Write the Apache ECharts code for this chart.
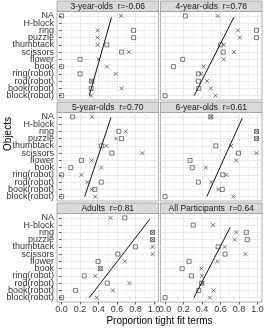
<!DOCTYPE html>
<html><head><meta charset="utf-8">
<script src="https://cdn.jsdelivr.net/npm/echarts@6/dist/echarts.min.js"></script>
<style>html,body{margin:0;padding:0;background:#fff}#c{width:271px;height:329px}</style>
</head><body><div id="c"></div>
<script>
// ---- data ----
const categories = ['NA','H-block','ring','puzzle','thumbtack','scissors','flower','book','ring(robot)','rod(robot)','book(robot)','block(robot)'];
const panelTitles = ['3-year-olds  r=-0.06','4-year-olds  r=0.78','5-year-olds  r=0.70','6-year-olds  r=0.61','Adults  r=0.81','All Participants  r=0.64'];
const xTickLabels = [0, 0.2, 0.4, 0.6, 0.8, 1.0];
const xMinorLines = [0.1, 0.3, 0.5, 0.7, 0.9];

const squares3yo = [0.0, null, 0.78, 0.78, 0.49, 0.65, 0.20, 0.0, 0.20, 0.325, 0.32, 0.0];
const crosses3yo = [0.645, null, 0.39, 0.39, 0.39, 0.73, 0.40, 0.49, 0.585, 0.325, 0.65, 0.32];
const squares4yo = [0.22, null, 0.99, 0.99, 0.60, 0.63, 0.19, 0.09, 0.36, 0.36, 0.365, 0.0];
const crosses4yo = [0.57, null, 0.79, 0.81, 0.635, 0.745, 0.635, 0.415, 0.39, 0.455, 0.495, 0.545];
const squares5yo = [0.12, null, 0.62, 0.65, 0.43, 0.545, 0.215, 0.10, 0.0, 0.43, 0.36, 0.0];
const crosses5yo = [0.33, null, 0.695, 0.59, 0.485, 0.875, 0.325, 0.43, 0.215, 0.28, 0.325, 0.365];
const squares6yo = [0.495, null, 0.99, 0.99, 0.55, 0.795, 0.27, 0.295, 0.625, 0.36, 0.62, 0.0];
const crosses6yo = [0.495, null, 0.99, 0.99, 0.715, 0.99, 0.77, 0.44, 0.665, 0.50, 0.575, 0.74];
const squaresAdults = [0.685, null, 0.985, 0.985, 0.80, 0.61, 0.395, 0.42, 0.245, 0.495, 0.15, 0.0];
const crossesAdults = [0.53, null, 0.985, 0.985, 0.985, 0.985, 0.685, 0.42, 0.365, 0.735, 0.555, 0.38];
const squaresAll = [null, 0.305, 0.88, 0.89, 0.575, 0.65, 0.26, 0.185, 0.285, 0.395, 0.365, 0.0];
const crossesAll = [null, 0.52, 0.77, 0.755, 0.645, 0.87, 0.565, 0.395, 0.40, 0.405, 0.525, 0.485];

// fit lines: [x, category position (1 = bottom row, 12 = top row)]
const fit3yo = [[0.30, 1], [0.54, 11.8]];
const fit4yo = [[0.315, 1], [0.745, 11.8]];
const fit5yo = [[0.25, 1], [0.535, 11.9]];
const fit6yo = [[0.452, 1], [0.835, 11.8]];
const fitAdults = [[0.30, 1], [0.955, 11.8]];
const fitAll = [[0.312, 1], [0.706, 10.7]];

// ---- layout ----
const FONT = '"Liberation Sans", Arial, Helvetica, sans-serif';
const colLeft = [57, 160.5];
const panelW = 101.5;
const rowTop = [11.5, 112.5, 213.5];
const panelH = 88.5;
const stripH = 10.5;

const squaresList = [squares3yo, squares4yo, squares5yo, squares6yo, squaresAdults, squaresAll];
const crossesList = [crosses3yo, crosses4yo, crosses5yo, crosses6yo, crossesAdults, crossesAll];
const fitList = [fit3yo, fit4yo, fit5yo, fit6yo, fitAdults, fitAll];

const nCat = categories.length;
const catPos = categories.map((c, i) => nCat - i);
const evenPos = catPos.filter((v, i) => i % 2 === 0);
const oddPos = catPos.filter((v, i) => i % 2 === 1);
const toPoints = arr => arr.map((v, i) => v == null ? null : [v, catPos[i]]).filter(p => p);

const grids = [], xAxes = [], yAxes = [], series = [], graphics = [];
const CROSS = 'path://M0,0L10,10M0,10L10,0';
const yLabelStyle = (show, vals) => ({show: show, customValues: vals, margin: 3, fontSize: 9, color: '#333', fontFamily: FONT,
  showMinLabel: true, showMaxLabel: true, hideOverlap: false,
  formatter: v => categories[nCat - Math.round(v)]});

for (let p = 0; p < 6; p++) {
  const r = Math.floor(p / 2), c = p % 2;
  const left = colLeft[c], top = rowTop[r];
  grids.push({left: left, top: top, width: panelW, height: panelH, containLabel: false,
    show: true, backgroundColor: '#fff', borderColor: '#9a9a9a', borderWidth: 0.8});
  const bottom = r === 2;
  xAxes.push({type: 'value', gridIndex: p, min: -0.05, max: 1.05,
    axisLine: {show: false}, axisLabel: {show: false},
    axisTick: {show: false, customValues: xMinorLines},
    splitLine: {show: true, lineStyle: {color: '#f0f0f0', width: 0.8}}});
  const minorIdx = xAxes.length - 1;
  xAxes.push({type: 'value', gridIndex: p, min: -0.05, max: 1.05, position: 'bottom',
    axisLine: {show: false},
    axisTick: {show: bottom, length: 2.5, customValues: xTickLabels, lineStyle: {color: '#333', width: 0.8}},
    axisLabel: {show: bottom, customValues: xTickLabels, margin: 3.5, fontSize: 9, color: '#333', fontFamily: FONT,
      showMinLabel: true, showMaxLabel: true, hideOverlap: false,
      formatter: v => v.toFixed(1)},
    splitLine: {show: true, lineStyle: {color: '#e4e4e4', width: 0.8}}});
  // y axis A: grid lines, ticks, labels of every other row
  yAxes.push({type: 'value', gridIndex: p, min: 0.4, max: nCat + 0.6, position: 'left',
    axisLine: {show: false},
    axisTick: {show: c === 0, length: 2.5, customValues: catPos, lineStyle: {color: '#333', width: 0.8}},
    axisLabel: yLabelStyle(c === 0, evenPos),
    splitLine: {show: true, lineStyle: {color: '#e4e4e4', width: 0.8}}});
  const yIdx = yAxes.length - 1;
  // y axis B: labels of the remaining rows
  yAxes.push({type: 'value', gridIndex: p, min: 0.4, max: nCat + 0.6, position: 'left', offset: 0,
    axisLine: {show: false},
    axisTick: {show: false, customValues: oddPos},
    axisLabel: yLabelStyle(c === 0, oddPos),
    splitLine: {show: false}});

  series.push({type: 'scatter', xAxisIndex: minorIdx, yAxisIndex: yIdx, data: toPoints(squaresList[p]),
    symbol: 'rect', symbolSize: 4, silent: true, animation: false,
    itemStyle: {color: 'rgba(0,0,0,0)', borderColor: '#333', borderWidth: 0.8}});
  series.push({type: 'scatter', xAxisIndex: minorIdx, yAxisIndex: yIdx, data: toPoints(crossesList[p]),
    symbol: CROSS, symbolSize: 4, silent: true, animation: false,
    itemStyle: {color: 'rgba(0,0,0,0)', borderColor: '#333', borderWidth: 0.8}});
  series.push({type: 'line', xAxisIndex: minorIdx, yAxisIndex: yIdx, data: fitList[p],
    symbol: 'none', silent: true, animation: false, lineStyle: {color: '#111', width: 1}});

  graphics.push({type: 'rect', shape: {x: left, y: top - stripH, width: panelW, height: stripH},
    style: {fill: '#d9d9d9', stroke: '#9a9a9a', lineWidth: 0.8}, silent: true});
  graphics.push({type: 'text', x: left + panelW / 2, y: top - stripH / 2 + 0.5,
    style: {text: panelTitles[p], fontSize: 8.5, fontFamily: FONT, fill: '#1a1a1a', align: 'center', verticalAlign: 'middle'}, silent: true});
}

graphics.push({type: 'text', x: (colLeft[0] + colLeft[1] + panelW) / 2, y: 321,
  style: {text: 'Proportion tight fit terms', fontSize: 10, fontFamily: FONT, fill: '#000', align: 'center', verticalAlign: 'middle'}});
graphics.push({type: 'text', x: 8, y: 134, rotation: Math.PI / 2,
  style: {text: 'Objects', fontSize: 10, fontFamily: FONT, fill: '#000', align: 'center', verticalAlign: 'middle'}});

const chart = echarts.init(document.getElementById('c'), null, {renderer: 'canvas'});
chart.setOption({animation: false, grid: grids, xAxis: xAxes, yAxis: yAxes, series: series, graphic: graphics});
</script></body></html>
